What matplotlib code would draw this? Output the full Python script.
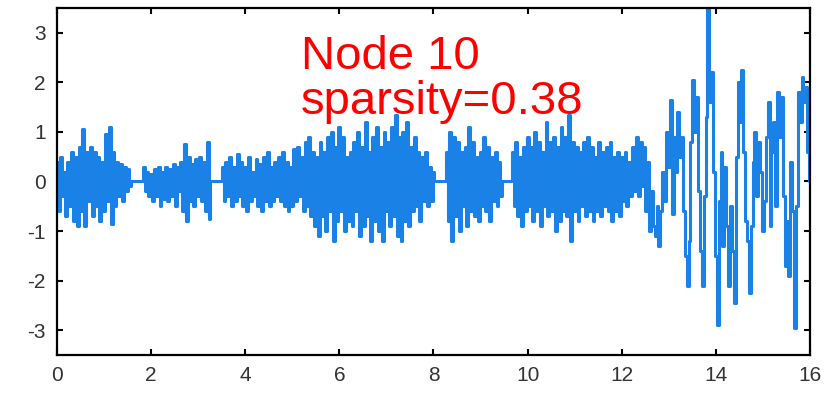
import numpy as np
import matplotlib
matplotlib.use("Agg")
import matplotlib.pyplot as plt

plt.rcParams['font.family'] = ['Liberation Sans', 'DejaVu Sans']
plt.rcParams['axes.unicode_minus'] = False

# signal samples, dt = 0.04 from t = 0 to t = 16 (401 points)
seg1 = [0.4, -0.6, 0.5, -0.3, 0.2, -0.7, 0.4, -0.5, 0.6, -0.8,
        0.5, -0.9, 0.7, -0.6, 1.05, -0.9, 0.6, -0.4, 0.7, -0.7,
        0.6, -0.5, 0.5, -0.8, 0.4, -0.6, 0.95, -0.4, 1.1, -0.85,
        0.6, -0.5, 0.4, -0.3, 0.35, -0.4, 0.3, -0.2, 0.25, -0.1]
gap1 = [0, 0, 0, 0, 0, 0]
seg2 = [0.3, -0.2, 0.2, -0.3, 0.15, -0.4, 0.25, -0.3, 0.3, -0.5,
        0.2, -0.35, 0.3, -0.4, 0.25, -0.3, 0.35, -0.5, 0.3, -0.2,
        0.4, -0.6, 0.75, -0.8, 0.5, -0.4, 0.35, -0.5, 0.45, -0.3,
        0.5, -0.4, 0.4, -0.6, 0.8, -0.75]
gap2 = [0, 0, 0, 0, 0, 0]
seg3 = [0.3, -0.4, 0.4, -0.3, 0.5, -0.5, 0.3, -0.4, 0.55, -0.3,
        0.4, -0.5, 0.3, -0.6, 0.5, -0.4, 0.2, -0.3, 0.45, -0.5,
        0.35, -0.6, 0.5, -0.4, 0.6, -0.5, 0.3, -0.4, 0.4, -0.3,
        0.5, -0.4, 0.6, -0.5, 0.4, -0.6, 0.3, -0.5, 0.65, -0.4,
        0.7, -0.3, 0.5, -0.6, 0.8, -0.5, 0.9, -0.7, 0.6, -0.9,
        0.5, -1.1, 0.8, -0.7, 0.6, -1.0, 0.9, -0.6, 1.0, -1.2,
        0.7, -0.8, 1.1, -0.6, 0.9, -1.0, 0.5, -0.8, 0.6, -0.9,
        0.8, -0.6, 1.0, -1.1, 0.7, -0.9, 1.2, -0.7, 0.6, -1.2,
        0.9, -0.8, 1.1, -1.0, 0.7, -1.2, 1.0, -0.6, 0.8, -0.9,
        1.1, -0.7, 1.35, -1.1, 0.9, -1.2, 1.0, -0.8, 1.2, -0.9,
        0.7, -0.6, 0.9, -0.5, 0.6, -0.8, 0.5, -0.4, 0.6, -0.5,
        0.3, -0.4, 0.2]
gap3 = [0, 0, 0, 0, 0, 0]
seg4 = [0.6, -0.8, 1.0, -1.2, 0.9, -0.7, 0.8, -1.0, 0.6, -0.5,
        0.7, -0.9, 1.1, -0.6, 0.8, -0.7, 0.5, -0.8, 0.6, -0.5,
        0.9, -0.6, 0.7, -0.8, 0.5, -0.4, 0.6, -0.5, 0.4, -0.3]
gap4 = [0, 0, 0, 0, 0]
seg5 = [0.6, -0.5, 0.8, -0.7, 0.5, -0.9, 0.7, -0.6, 0.9, -0.5,
        0.7, -0.8, 1.0, -0.6, 0.8, -0.9, 0.6, -0.5, 1.2, -0.7,
        0.8, -0.6, 0.9, -1.0, 0.7, -0.8, 1.1, -0.6, 0.9, -0.7,
        1.35, -1.2, 0.8, -0.6, 0.7, -0.8, 0.6, -0.5, 0.8, -0.7,
        0.9, -0.6, 0.7, -0.8, 0.5, -0.6, 0.8, -0.7, 0.6, -0.5,
        0.7, -0.6, 0.8, -0.8, 0.5, -0.6, 0.6, -0.7, 0.5, -0.4,
        0.6, -0.5, 0.4, -0.3, 0.7, -0.2, 0.9, -0.3, 0.8, -0.1,
        0.7, -0.6, 0.4, -1.0, -0.2, -0.9]
seg6 = [-1.1, -0.5, -1.3, -0.6, 0.2, -0.4, 1.0, 0.3, 1.65, -0.65,
        0.9, 0.2, 1.4, 0.5, 0.9, -0.6, -1.5, -2.1, -1.2, 0.8,
        2.05, 1.0, 1.7, -0.2, -1.4, -2.1, -0.3, 1.3, 3.5, 1.6,
        2.2, 0.2, -1.5, -2.9, -0.4, 0.6, -1.3, 0.3, -0.9, -2.1,
        -0.5, -1.4, -2.45, 0.5, 2.0, 1.2, 2.25, 0.6, -0.8, -1.2,
        -2.25, -0.9, 0.4, 1.0, -0.3, 0.8, 0.2, -1.0, -0.4, 0.9,
        1.6, -0.9, 0.6, 1.2, -0.5, 1.8, 0.9, 1.7, -0.3, -1.7,
        -0.8, -1.9, 0.4, -0.6, -2.95, -0.5, 1.8, 1.2, 2.1, 1.6,
        1.9, 0.6, 0.0]

signal = np.array(seg1 + gap1 + seg2 + gap2 + seg3 + gap3 + seg4 + gap4 + seg5 + seg6)
t = np.linspace(0, 16, len(signal))

xticks = [0, 2, 4, 6, 8, 10, 12, 14, 16]
yticks = [-3, -2, -1, 0, 1, 2, 3]

fig = plt.figure(figsize=(8.38, 3.96), dpi=100)
ax = fig.add_axes([0.068, 0.1035, 0.8986, 0.8765])

ax.plot(t, signal, color='#1a82e6', linewidth=2.2, drawstyle='steps-mid')

ax.set_xlim(0, 16)
ax.set_ylim(-3.5, 3.5)
ax.set_xticks(xticks)
ax.set_yticks(yticks)
ax.tick_params(direction='in', length=4, width=1.5, top=True, right=True,
               labelsize=15, labelcolor='#333333', pad=8)
for sp in ax.spines.values():
    sp.set_linewidth(1.6)

ax.text(5.18, 2.26, 'Node 10', color='red', fontsize=34)
ax.text(5.18, 1.37, 'sparsity=0.38', color='red', fontsize=34)

fig.savefig('out.png', dpi=100)
